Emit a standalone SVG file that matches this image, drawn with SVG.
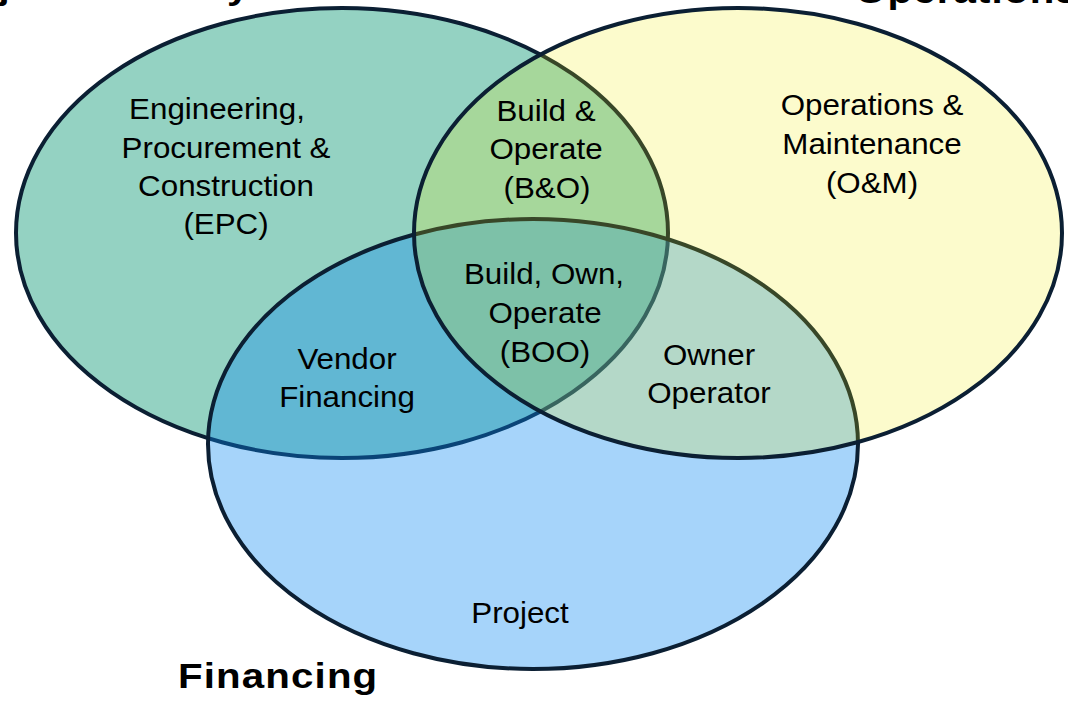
<svg xmlns="http://www.w3.org/2000/svg" width="1068" height="702" viewBox="0 0 1068 702">
  <style>
    .set { stroke: #0B1F33; stroke-width: 4; }
    .lbl { font-family: "Liberation Sans", Arial, sans-serif; font-size: 29px; fill: #000; text-anchor: middle; }
    .hdr { font-family: "Liberation Sans", Arial, sans-serif; font-size: 35px; font-weight: bold; letter-spacing: 1px; fill: #000; }
  </style>
  <rect width="1068" height="702" fill="#FFFFFF"/>
  <g id="set-epc">
    <ellipse class="set" cx="342" cy="233" rx="326" ry="225" fill="#94D2C2"/>
  </g>
  <g id="set-financing">
    <ellipse class="set" cx="533" cy="444" rx="325" ry="225" fill="#0888F1" fill-opacity="0.36"/>
  </g>
  <g id="set-om">
    <ellipse class="set" cx="738" cy="233" rx="324" ry="225" fill="#F0EC00" fill-opacity="0.2"/>
  </g>
  <g id="label-epc">
    <text class="lbl" transform="matrix(1.08 0 0 1 217 119)">Engineering,</text>
    <text class="lbl" transform="matrix(1.08 0 0 1 226 158)">Procurement &amp;</text>
    <text class="lbl" transform="matrix(1.08 0 0 1 226 196)">Construction</text>
    <text class="lbl" transform="matrix(1.08 0 0 1 226 234)">(EPC)</text>
  </g>
  <g id="label-bo">
    <text class="lbl" transform="matrix(1.08 0 0 1 546 121)">Build &amp;</text>
    <text class="lbl" transform="matrix(1.08 0 0 1 546 159)">Operate</text>
    <text class="lbl" transform="matrix(1.08 0 0 1 547 198)">(B&amp;O)</text>
  </g>
  <g id="label-om">
    <text class="lbl" transform="matrix(1.08 0 0 1 872 115)">Operations &amp;</text>
    <text class="lbl" transform="matrix(1.08 0 0 1 872 154)">Maintenance</text>
    <text class="lbl" transform="matrix(1.08 0 0 1 872 192.5)">(O&amp;M)</text>
  </g>
  <g id="label-boo">
    <text class="lbl" transform="matrix(1.08 0 0 1 544 284)">Build, Own,</text>
    <text class="lbl" transform="matrix(1.08 0 0 1 545 323)">Operate</text>
    <text class="lbl" transform="matrix(1.08 0 0 1 545 362)">(BOO)</text>
  </g>
  <g id="label-vendor">
    <text class="lbl" transform="matrix(1.08 0 0 1 347 369)">Vendor</text>
    <text class="lbl" transform="matrix(1.08 0 0 1 347 407)">Financing</text>
  </g>
  <g id="label-owner">
    <text class="lbl" transform="matrix(1.08 0 0 1 709 365)">Owner</text>
    <text class="lbl" transform="matrix(1.08 0 0 1 709 403)">Operator</text>
  </g>
  <g id="label-project">
    <text class="lbl" transform="matrix(1.08 0 0 1 520 623)">Project</text>
  </g>
  <g id="headers">
    <text class="hdr" transform="matrix(1.15 0 0 1 -72 -1)">Project Delivery</text>
    <text class="hdr" transform="matrix(1.15 0 0 1 855 3)">Operations</text>
    <text class="hdr" transform="matrix(1.15 0 0 1 178 688)">Financing</text>
  </g>
</svg>
